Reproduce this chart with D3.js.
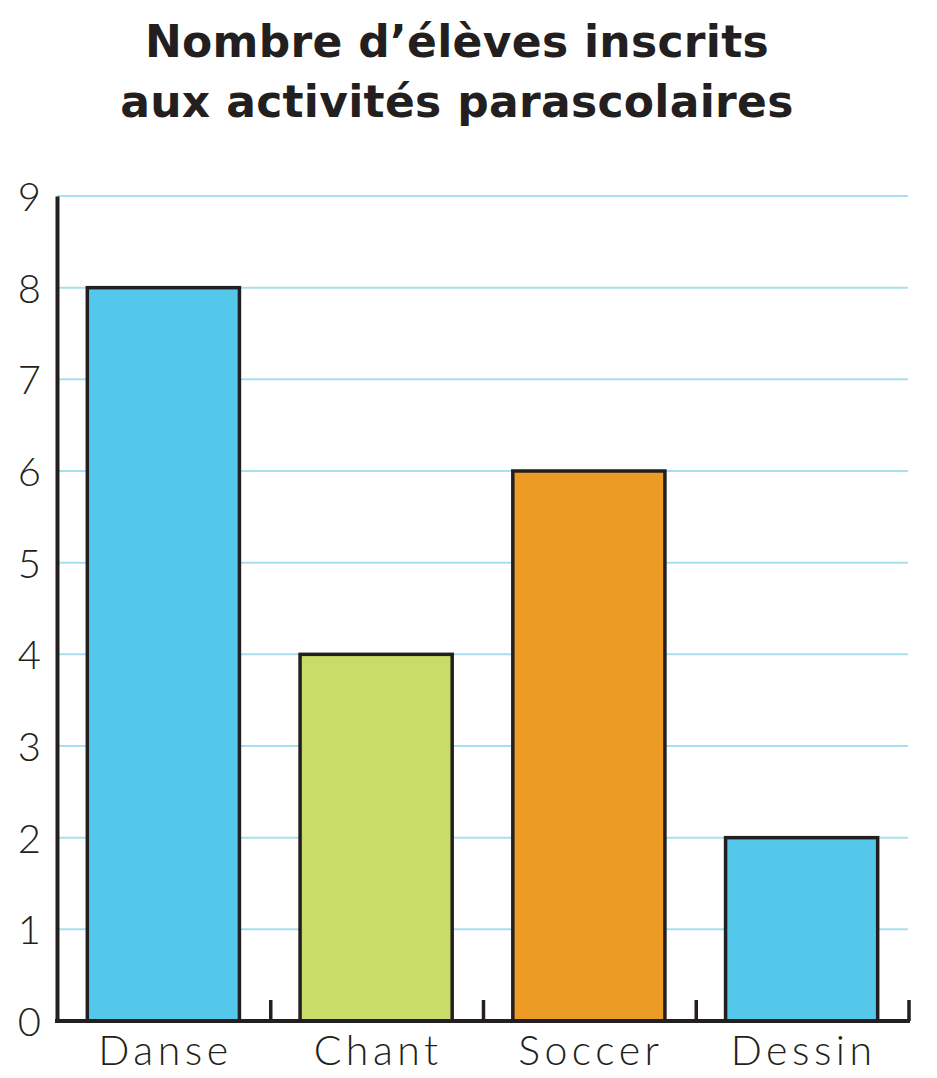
<!DOCTYPE html>
<html>
<head>
<meta charset="utf-8">
<script src="https://cdn.jsdelivr.net/npm/d3@7"></script>
<style>
  body { margin: 0; background: #fff; }
  #chart { width: 937px; height: 1078px; }
  .title { font-family: "DejaVu Sans", sans-serif; font-weight: bold; fill: #231f20; }
  .lbl { font-family: "Lato", "DejaVu Sans", sans-serif; font-weight: 300; fill: #231f20; }
</style>
</head>
<body>
<div id="chart"></div>
<script>
// data
const activites = ["Danse", "Chant", "Soccer", "Dessin"];
const eleves = [8, 4, 6, 2];
const couleurs = ["#53c8ea", "#c8dc67", "#ec9c25", "#53c8ea"];
const yTicks = [0, 1, 2, 3, 4, 5, 6, 7, 8, 9];
const titre = ["Nombre d\u2019élèves inscrits", "aux activités parascolaires"];

const width = 937;
const height = 1078;
const margin = {top: 196, left: 57, right: 29, bottom: 57};

const svg = d3.select("#chart")
    .append("svg")
    .attr("width", width)
    .attr("height", height);

const xScale = d3.scaleBand()
    .domain(activites)
    .range([margin.left, width - margin.right])
    .paddingInner(0.285)
    .paddingOuter(0.1425);

const yScale = d3.scaleLinear()
    .domain([0, 9])
    .range([height - margin.bottom, margin.top]);

// grid lines
svg.append("g")
    .selectAll("line")
    .data(yTicks.slice(1))
    .enter()
    .append("line")
    .attr("x1", margin.left)
    .attr("x2", width - margin.right)
    .attr("y1", d => yScale(d))
    .attr("y2", d => yScale(d))
    .attr("stroke", "#a9def0")
    .attr("stroke-width", 2);

// bars
svg.append("g")
    .selectAll("rect")
    .data(activites)
    .enter()
    .append("rect")
    .attr("x", d => xScale(d))
    .attr("y", (d, i) => yScale(eleves[i]))
    .attr("width", xScale.bandwidth())
    .attr("height", (d, i) => yScale(0) - yScale(eleves[i]))
    .attr("fill", (d, i) => couleurs[i])
    .attr("stroke", "#231f20")
    .attr("stroke-width", 3.5);

// y axis
const yAxis = svg.append("g")
    .attr("transform", `translate(${margin.left},0)`)
    .call(d3.axisLeft(yScale).tickValues(yTicks).tickSize(0).tickPadding(16));
yAxis.select(".domain").attr("stroke", "#231f20").attr("stroke-width", 4);
yAxis.selectAll("text").attr("class", "lbl").attr("font-size", 40).attr("dy", "0.36em");

// x axis with band separators
const xAxis = svg.append("g")
    .attr("transform", `translate(0,${height - margin.bottom})`)
    .call(d3.axisBottom(xScale).tickSize(0).tickPadding(44));
xAxis.select(".domain").remove();
xAxis.append("line")
    .attr("x1", margin.left - 2)
    .attr("x2", width - margin.right + 2)
    .attr("stroke", "#231f20")
    .attr("stroke-width", 4);
xAxis.selectAll(".sep")
    .data(activites)
    .enter()
    .append("line")
    .attr("class", "sep")
    .attr("x1", d => xScale(d) + xScale.bandwidth() + xScale.step() * 0.1425 + 1)
    .attr("x2", d => xScale(d) + xScale.bandwidth() + xScale.step() * 0.1425 + 1)
    .attr("y1", 0)
    .attr("y2", -21)
    .attr("stroke", "#231f20")
    .attr("stroke-width", 3.5);
xAxis.selectAll(".tick text")
    .attr("class", "lbl")
    .attr("font-size", 41)
    .attr("letter-spacing", 4.5)
    .attr("dx", 2)
    .attr("dy", "0em");

// title
svg.append("g")
    .selectAll("text")
    .data(titre)
    .enter()
    .append("text")
    .attr("class", "title")
    .attr("x", 457)
    .attr("y", (d, i) => 57 + i * 60)
    .attr("text-anchor", "middle")
    .attr("font-size", 44)
    .attr("letter-spacing", 0.3)
    .text(d => d);
</script>
</body>
</html>
